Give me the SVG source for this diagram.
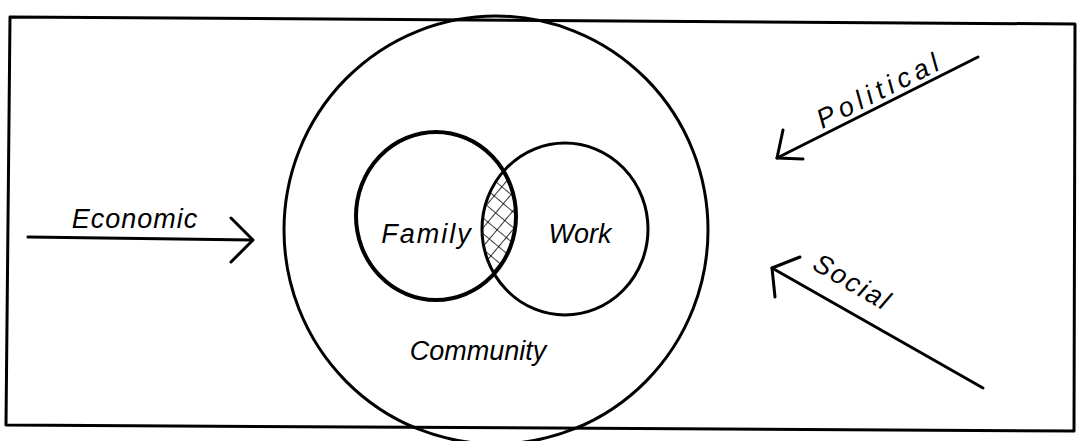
<svg xmlns="http://www.w3.org/2000/svg" width="1083" height="441" viewBox="0 0 1083 441">
<style>
.ln{fill:none;stroke:#000;stroke-width:3;stroke-linecap:round;stroke-linejoin:round}
.thick{fill:none;stroke:#000;stroke-width:4}
.lbl{font-family:"Liberation Sans","DejaVu Sans",sans-serif;font-style:italic;font-size:27px;fill:#000}
</style>
<defs>
<pattern id="hatch" width="12" height="12" patternUnits="userSpaceOnUse" patternTransform="rotate(40)">
<path d="M0 0H12M0 0V12" stroke="#000" stroke-width="1.6"/>
</pattern>
<clipPath id="cf"><ellipse cx="436" cy="216" rx="80" ry="84"/></clipPath>
<clipPath id="cw"><ellipse cx="565" cy="229" rx="83" ry="86"/></clipPath>
</defs>
<rect width="1083" height="441" fill="#fff"/>
<g id="frame">
<path class="ln" d="M10 17 L1075 24 L1074 431 L6 425 Z" stroke-width="2.5"/>
</g>
<g id="community">
<ellipse class="ln" cx="496" cy="230" rx="212" ry="214"/>
<text class="lbl" x="478" y="360" text-anchor="middle">Community</text>
</g>
<g id="overlap">
<g clip-path="url(#cf)"><rect x="470" y="130" width="60" height="190" fill="url(#hatch)" clip-path="url(#cw)"/></g>
</g>
<g id="family">
<ellipse class="thick" cx="436" cy="216" rx="80" ry="84"/>
<text class="lbl" x="427" y="243" text-anchor="middle" letter-spacing="2">Family</text>
</g>
<g id="work">
<ellipse class="ln" cx="565" cy="229" rx="83" ry="86"/>
<text class="lbl" x="580" y="243" text-anchor="middle">Work</text>
</g>
<g id="connectors">
<g id="economic">
<path class="ln" d="M28 237 L252 240"/>
<path class="ln" d="M231 218 L253 240 L231 262"/>
<text class="lbl" x="135" y="228" text-anchor="middle" letter-spacing="1">Economic</text>
</g>
<g id="political">
<path class="ln" d="M978 57 L777 158"/>
<path class="ln" d="M783 130 L777 158 L803 159"/>
<text class="lbl" transform="translate(884,98) rotate(-26.7)" text-anchor="middle" letter-spacing="5">Political</text>
</g>
<g id="social">
<path class="ln" d="M983 388 L772 268"/>
<path class="ln" d="M800 257 L772 268 L775 297"/>
<text class="lbl" transform="translate(848,290) rotate(30)" text-anchor="middle" letter-spacing="2">Social</text>
</g>
</g>
</svg>
